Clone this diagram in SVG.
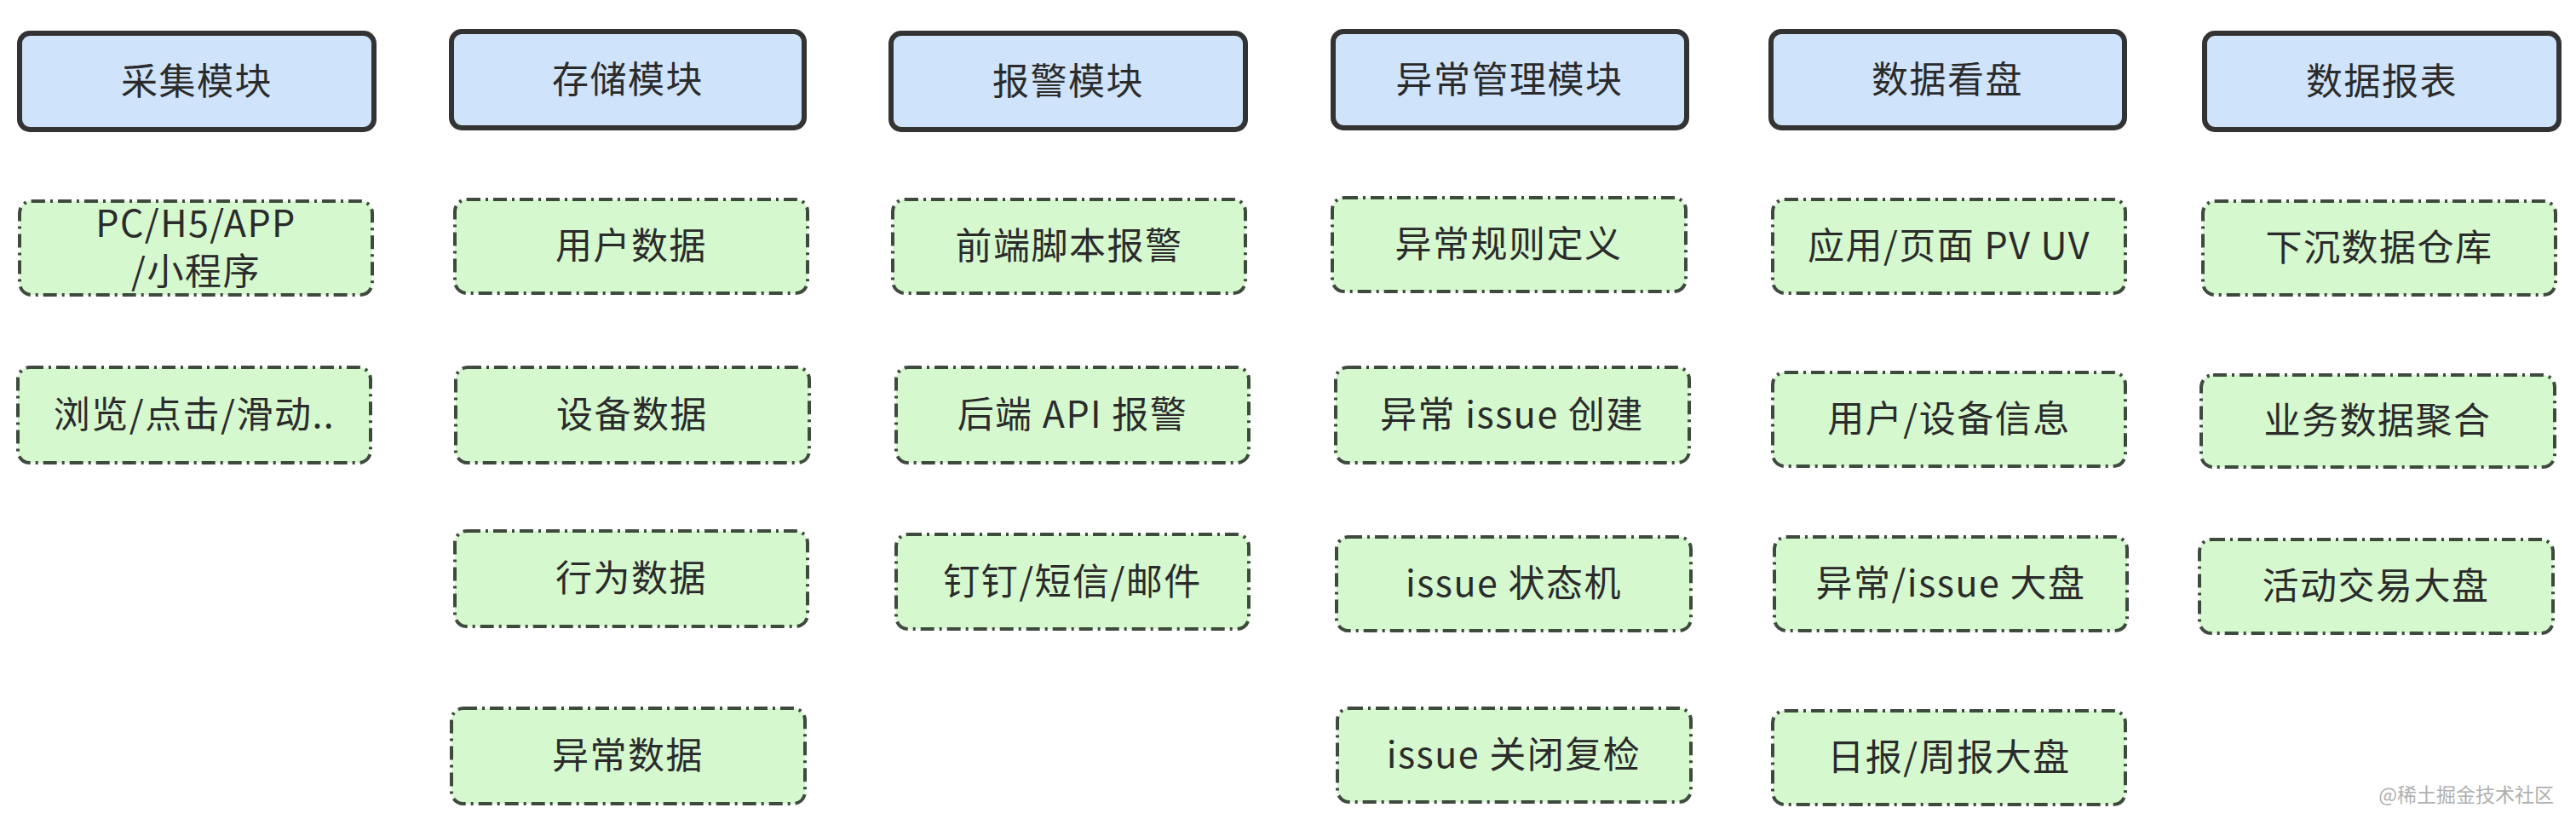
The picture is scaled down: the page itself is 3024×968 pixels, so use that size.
<svg xmlns="http://www.w3.org/2000/svg" width="3024" height="968" viewBox="0 0 3024 968">
<style>
.hd{fill:#cfe3fa;stroke:#333333;stroke-width:6}
.it{fill:#d5f8cf;stroke:#3f4a3f;stroke-width:4;stroke-dasharray:16 6 3 6}
text{font-family:"Noto Sans CJK SC","Noto Sans",sans-serif;font-size:43px;letter-spacing:1.5px;fill:#2b2b2b;text-anchor:middle}
.wm{font-size:23px;letter-spacing:0;fill:#b0b0b0;text-anchor:end}
</style>
<rect width="3024" height="968" fill="#ffffff"/>
<g id="connectors"/>
<g id="col1">
<g id="h1"><rect class="hd" x="23" y="39" width="416" height="113" rx="12"/><text x="231" y="111">采集模块</text></g>
<g id="n1a"><rect class="it" x="23" y="236" width="414" height="110" rx="14"/><text x="230" y="278">PC/H5/APP</text><text x="230" y="334">/小程序</text></g>
<g id="n1b"><rect class="it" x="21" y="431" width="414" height="112" rx="14"/><text x="228" y="502">浏览/点击/滑动..</text></g>
</g>
<g id="col2">
<g id="h2"><rect class="hd" x="530" y="37" width="414" height="113" rx="12"/><text x="737" y="109">存储模块</text></g>
<g id="n2a"><rect class="it" x="534" y="234" width="414" height="110" rx="14"/><text x="741" y="304">用户数据</text></g>
<g id="n2b"><rect class="it" x="535" y="431" width="415" height="112" rx="14"/><text x="742" y="502">设备数据</text></g>
<g id="n2c"><rect class="it" x="534" y="623" width="414" height="112" rx="14"/><text x="741" y="694">行为数据</text></g>
<g id="n2d"><rect class="it" x="530" y="831" width="415" height="112" rx="14"/><text x="737" y="902">异常数据</text></g>
</g>
<g id="col3">
<g id="h3"><rect class="hd" x="1046" y="39" width="416" height="113" rx="12"/><text x="1254" y="111">报警模块</text></g>
<g id="n3a"><rect class="it" x="1048" y="234" width="414" height="110" rx="14"/><text x="1255" y="304">前端脚本报警</text></g>
<g id="n3b"><rect class="it" x="1052" y="431" width="414" height="112" rx="14"/><text x="1259" y="502">后端 API 报警</text></g>
<g id="n3c"><rect class="it" x="1052" y="627" width="414" height="111" rx="14"/><text x="1259" y="698">钉钉/短信/邮件</text></g>
</g>
<g id="col4">
<g id="h4"><rect class="hd" x="1565" y="37" width="415" height="113" rx="12"/><text x="1772" y="109">异常管理模块</text></g>
<g id="n4a"><rect class="it" x="1564" y="232" width="415" height="110" rx="14"/><text x="1771" y="302">异常规则定义</text></g>
<g id="n4b"><rect class="it" x="1568" y="431" width="415" height="112" rx="14"/><text x="1775" y="502">异常 issue 创建</text></g>
<g id="n4c"><rect class="it" x="1569" y="630" width="416" height="110" rx="14"/><text x="1777" y="700">issue 状态机</text></g>
<g id="n4d"><rect class="it" x="1570" y="831" width="415" height="110" rx="14"/><text x="1777" y="901">issue 关闭复检</text></g>
</g>
<g id="col5">
<g id="h5"><rect class="hd" x="2079" y="37" width="415" height="113" rx="12"/><text x="2286" y="109">数据看盘</text></g>
<g id="n5a"><rect class="it" x="2081" y="234" width="414" height="110" rx="14"/><text x="2288" y="304">应用/页面 PV UV</text></g>
<g id="n5b"><rect class="it" x="2081" y="437" width="414" height="110" rx="14"/><text x="2288" y="507">用户/设备信息</text></g>
<g id="n5c"><rect class="it" x="2083" y="630" width="414" height="110" rx="14"/><text x="2290" y="700">异常/issue 大盘</text></g>
<g id="n5d"><rect class="it" x="2081" y="834" width="414" height="110" rx="14"/><text x="2288" y="904">日报/周报大盘</text></g>
</g>
<g id="col6">
<g id="h6"><rect class="hd" x="2588" y="39" width="416" height="113" rx="12"/><text x="2796" y="111">数据报表</text></g>
<g id="n6a"><rect class="it" x="2586" y="236" width="414" height="110" rx="14"/><text x="2793" y="306">下沉数据仓库</text></g>
<g id="n6b"><rect class="it" x="2584" y="440" width="415" height="108" rx="14"/><text x="2791" y="509">业务数据聚合</text></g>
<g id="n6c"><rect class="it" x="2582" y="633" width="415" height="110" rx="14"/><text x="2789" y="703">活动交易大盘</text></g>
</g>
<text class="wm" x="2998" y="941">@稀土掘金技术社区</text>
</svg>
